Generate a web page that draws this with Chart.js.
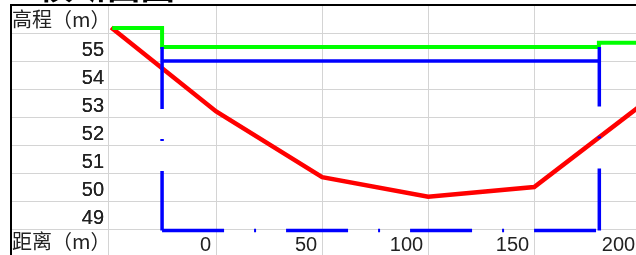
<!DOCTYPE html>
<html>
<head>
<meta charset="utf-8">
<script src="https://cdn.jsdelivr.net/npm/chart.js@4/dist/chart.umd.min.js"></script>
<style>
  html, body { margin: 0; padding: 0; background: #fff; }
  #wrap { position: relative; width: 636px; height: 255px; overflow: hidden; }
  #box { position: absolute; left: 0; top: 0; width: 636px; height: 255px; }
  .txt { position: absolute; font-family: "Noto Sans CJK SC", sans-serif; font-size: 20px; line-height: 20px; color: #222; white-space: nowrap; }
  .title { position: absolute; left: 0; top: -32px; font-family: "Noto Sans CJK SC", sans-serif; font-weight: bold; font-size: 34px; line-height: 34px; color: #000; white-space: nowrap; }
  .line { position: absolute; background: #000; }
</style>
</head>
<body>
<div id="wrap">
  <div id="box"><canvas id="chart"></canvas></div>
  <div class="title">5. 横断面图</div>
  <div class="line" style="left:10px; top:4px; width:626px; height:2px;"></div>
  <div class="line" style="left:10px; top:4px; width:2px; height:251px;"></div>
  <div class="txt" style="left:12px; top:9px;">高程（m）</div>
  <div class="txt" style="left:12px; top:231px;">距离（m）</div>
</div>
<script>
// ---------------------------------------------
// datos
// ---------------------------------------------
const xTickLabels = [0, 50, 100, 150, 200];
const yTickLabels = [49, 50, 51, 52, 53, 54, 55];

// linea de terreno (roja)
const sueloX = [-49.5, 0, 50, 100, 150, 200];
const sueloY = [55.7, 52.7, 50.35, 49.65, 50.0, 52.9];

// linea verde
const verdeX = [-49, -25.5, -25.5, 180.5, 180.5, 200];
const verdeY = [55.68, 55.68, 55.0, 55.0, 55.15, 55.15];

// seccion azul: tapa + lados + fondo
const tapaX = [-25.5, 180.7];
const tapaY = [54.5, 54.5];
const ladoIzqX = [-25.5, -25.5];
const ladoIzqY = [55.0, 48.45];
const fondoX = [-25.5, 180.7];
const fondoY = [48.45, 48.45];
const ladoDerX = [180.7, 180.7];
const ladoDerY = [48.45, 55.0];

const X_MIN = -51, X_MAX = 198;
const Y_MIN = 48.5, Y_MAX = 56.5;

const gris = '#d4d4d4';
const fuente = { family: 'Liberation Sans', size: 20 };

const pts = (xs, ys) => xs.map((x, i) => ({ x, y: ys[i] }));

function serie(xs, ys, color, ancho, dash) {
  return {
    data: pts(xs, ys),
    showLine: true,
    borderColor: color,
    borderWidth: ancho,
    borderDash: dash || [],
    borderCapStyle: 'butt',
    pointRadius: 0,
    pointHoverRadius: 0,
    fill: false,
    tension: 0,
    clip: false
  };
}

const rayado = [62, 30, 2, 30];

// lineas de cuadricula en medios metros, etiquetas en metros enteros
const yGridValues = [];
for (let v = Y_MIN; v <= Y_MAX; v += 0.5) yGridValues.push(v);

new Chart(document.getElementById('chart'), {
  type: 'scatter',
  data: {
    datasets: [
      serie(ladoIzqX, ladoIzqY, '#0000ff', 3.5, rayado),
      serie(fondoX, fondoY, '#0000ff', 3.5, rayado),
      serie(ladoDerX, ladoDerY, '#0000ff', 3.5, rayado),
      serie(tapaX, tapaY, '#0000ff', 3.5),
      serie(verdeX, verdeY, '#00ff00', 4),
      serie(sueloX, sueloY, '#ff0000', 4.5)
    ]
  },
  options: {
    responsive: true,
    maintainAspectRatio: false,
    animation: false,
    events: [],
    layout: { padding: { top: 5, left: 0, right: 0, bottom: 0 } },
    plugins: { legend: { display: false }, tooltip: { enabled: false } },
    scales: {
      x: {
        type: 'linear',
        position: 'bottom',
        min: X_MIN,
        max: X_MAX,
        afterBuildTicks: s => { s.ticks = [X_MIN, ...xTickLabels].map(v => ({ value: v })); },
        afterFit: s => { s.height = 26; },
        border: { display: false },
        grid: { color: gris, lineWidth: 1, drawTicks: true, tickLength: 26 },
        ticks: {
          autoSkip: false,
          maxRotation: 0,
          align: 'end',
          labelOffset: -5,
          padding: -22,
          color: '#222',
          font: fuente,
          callback: v => xTickLabels.includes(v) ? String(v) : ''
        }
      },
      y: {
        type: 'linear',
        min: Y_MIN,
        max: Y_MAX,
        afterBuildTicks: s => {
          const vals = [...yGridValues, ...yTickLabels].sort((a, b) => a - b);
          s.ticks = vals.map(v => ({ value: v }));
        },
        afterFit: s => { s.width = 108; },
        border: { display: false },
        grid: {
          color: ctx => (ctx.tick && ctx.tick.value % 1 === 0) ? 'rgba(0,0,0,0)' : gris,
          lineWidth: 1,
          drawTicks: true,
          tickLength: 97
        },
        ticks: {
          autoSkip: false,
          padding: -93,
          labelOffset: 3,
          color: '#222',
          font: fuente,
          callback: v => yTickLabels.includes(v) ? String(v) : ''
        }
      }
    }
  }
});
</script>
</body>
</html>
